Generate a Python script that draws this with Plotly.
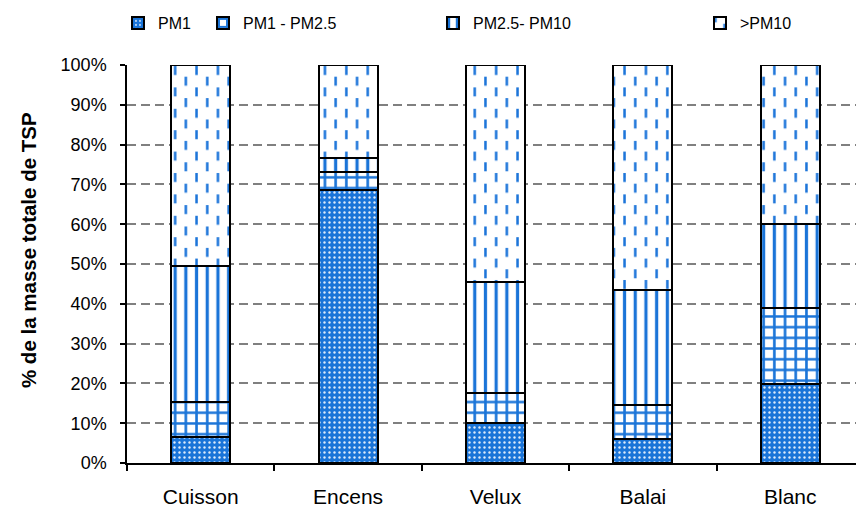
import plotly.graph_objects as go

categories = ["Cuisson", "Encens", "Velux", "Balai", "Blanc"]
pm1 = [6.6, 68.5, 10.0, 6.0, 19.9]
pm1_pm25 = [8.8, 4.6, 7.5, 8.5, 19.1]
pm25_pm10 = [34.1, 3.5, 28.0, 29.0, 21.1]
sup_pm10 = [50.5, 23.4, 54.5, 56.5, 39.9]
series_names = ["PM1", "PM1 - PM2.5", "PM2.5- PM10", ">PM10"]
y_ticks = list(range(0, 101, 10))
y_tick_labels = [f"{v}%" for v in y_ticks]

BLUE = "#1a74d8"
BLUE4 = "#1a74d9"
FONT = "Liberation Sans, Arial, sans-serif"

fig = go.Figure()

common = dict(x=categories, width=0.4, showlegend=True)
line = dict(color="black", width=2)

fig.add_trace(go.Bar(name=series_names[0], y=pm1, legend="legend",
                     marker=dict(color=BLUE, line=line,
                                 pattern=dict(shape=".", fillmode="overlay", fgcolor="white",
                                              fgopacity=0.85, bgcolor=BLUE, size=5, solidity=0.18)),
                     **common))
fig.add_trace(go.Bar(name=series_names[1], y=pm1_pm25, legend="legend2",
                     marker=dict(color="white", line=line,
                                 pattern=dict(shape="+", fillmode="overlay", fgcolor=BLUE,
                                              fgopacity=1, bgcolor="white", size=10.7, solidity=0.43)),
                     **common))
fig.add_trace(go.Bar(name=series_names[2], y=pm25_pm10, legend="legend3",
                     marker=dict(color="white", line=line,
                                 pattern=dict(shape="|", fillmode="overlay", fgcolor=BLUE,
                                              fgopacity=1, bgcolor="white", size=10.7, solidity=0.3)),
                     **common))
fig.add_trace(go.Bar(name=series_names[3], y=sup_pm10, legend="legend4",
                     marker=dict(color="white", line=line,
                                 pattern=dict(shape="|", fillmode="overlay", fgcolor=BLUE4,
                                              fgopacity=1, bgcolor="white", size=10.7, solidity=0.2)),
                     **common))

L, W = 127, 729
def px(x):
    return (x - L) / W

legend_common = dict(orientation="h", yanchor="middle", y=1 - 23 / 513, xanchor="left",
                     xref="container", yref="container", visible=True,
                     font=dict(family=FONT, size=16, color="black"),
                     bgcolor="rgba(0,0,0,0)", borderwidth=0)

fig.update_layout(
    width=856, height=513,
    margin=dict(l=L, r=0, t=65, b=50),
    paper_bgcolor="white", plot_bgcolor="white",
    barmode="stack", showlegend=True,
    font=dict(family=FONT, color="black"),
    legend=dict(x=118 / 856, **legend_common),
    legend2=dict(x=203 / 856, **legend_common),
    legend3=dict(x=433 / 856, **legend_common),
    legend4=dict(x=700 / 856, **legend_common),
    xaxis=dict(range=[-0.5, 4.446], tickson="boundaries", ticks="outside", ticklen=6,
               tickcolor="black", tickwidth=1.5, showline=True, linecolor="black", linewidth=1.5,
               showgrid=False, ticklabelstandoff=14,
               tickfont=dict(family=FONT, size=21, color="black")),
    yaxis=dict(range=[0, 100], tickvals=y_ticks, ticktext=y_tick_labels,
               ticks="outside", ticklen=5, tickcolor="black", tickwidth=1.5,
               showline=True, linecolor="black", linewidth=1.5,
               showgrid=True, gridcolor="#808080", gridwidth=1.6, griddash="9px,5px",
               zeroline=False, ticklabelstandoff=10,
               tickfont=dict(family=FONT, size=18, color="black")),
    annotations=[dict(text="<b>% de la masse totale de TSP</b>", textangle=-90,
                      xref="paper", yref="paper", x=px(28), y=0.535,
                      xanchor="center", yanchor="middle", showarrow=False,
                      font=dict(family=FONT, size=20.5, color="black"))],
)

post = """
function fixPatterns(){
  var pats = document.querySelectorAll('pattern');
  pats.forEach(function(p){
    var c = p.querySelector('path');
    if(!c) return;
    var s = (c.getAttribute('stroke')||'') + (c.style ? c.style.stroke : '');
    if(s.indexOf('26, 116, 217') >= 0 || s.toLowerCase().indexOf('1a74d9') >= 0){
      var w = 21.4, h = 21.4;
      p.setAttribute('width', w); p.setAttribute('height', h);
      while(p.firstChild) p.removeChild(p.firstChild);
      var ns = 'http://www.w3.org/2000/svg';
      var bg = document.createElementNS(ns,'rect');
      bg.setAttribute('x',0); bg.setAttribute('y',0); bg.setAttribute('width',w); bg.setAttribute('height',h);
      bg.setAttribute('fill','white'); p.appendChild(bg);
      [[5.35-1.25,1],[16.05-1.25,11.7]].forEach(function(d){
        var r = document.createElementNS(ns,'rect');
        r.setAttribute('x',d[0]); r.setAttribute('y',d[1]); r.setAttribute('width',2.5); r.setAttribute('height',9);
        r.setAttribute('fill','rgb(26,116,217)'); p.appendChild(r);
      });
    }
  });
}
fixPatterns();
setTimeout(fixPatterns, 50);
"""

fig.write_html("out.html", post_script=post)
